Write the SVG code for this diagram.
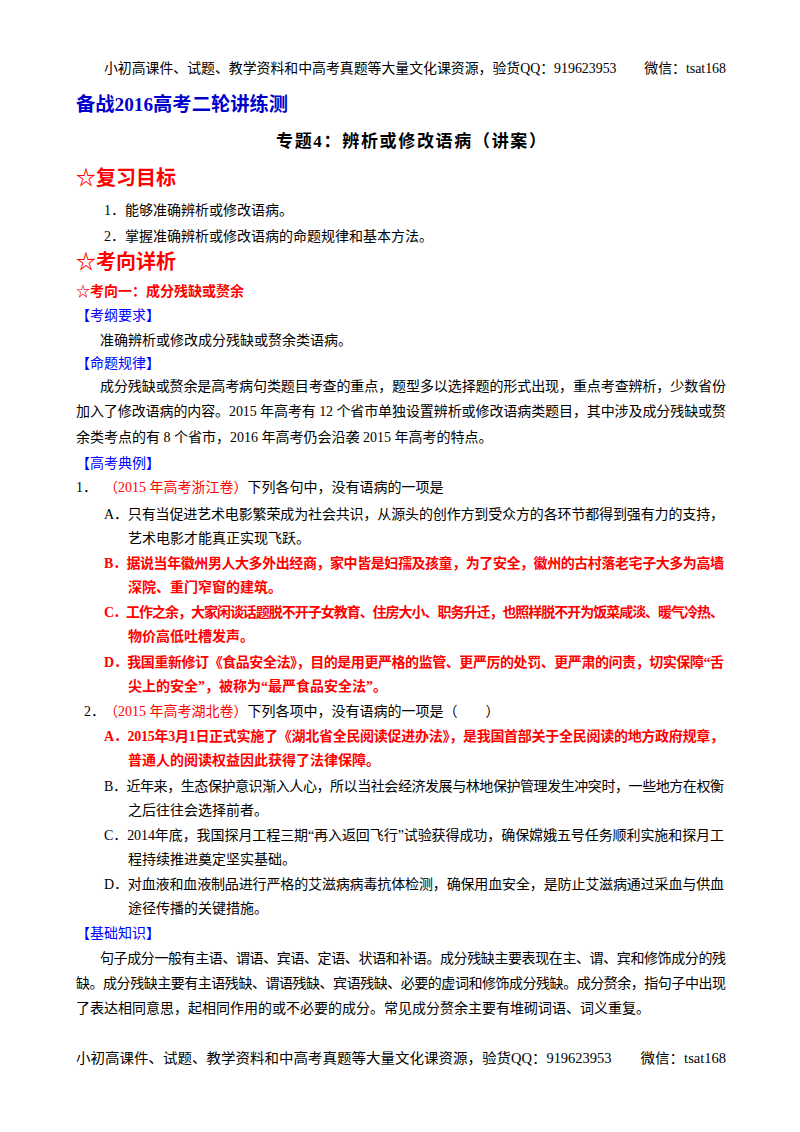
<svg xmlns="http://www.w3.org/2000/svg" width="800" height="1132" viewBox="0 0 800 1132">
<style>
text{font-family:"Liberation Serif","Noto Sans CJK SC",serif;font-size:14px;fill:#000}
.b{fill:#0000FF}
.r{fill:#FF0000}
.rb{fill:#FF0000;font-weight:bold}
.h{font-size:20px;font-weight:bold}
</style>
<rect width="800" height="1132" fill="#fff"/>
<g id="header"><text x="104" y="73" textLength="622" lengthAdjust="spacingAndGlyphs">小初高课件、试题、教学资料和中高考真题等大量文化课资源，验货QQ：919623953　　微信：tsat168</text></g>
<g id="title">
<text x="76" y="111" style="font-size:19px;font-weight:bold;fill:#0000CC" textLength="212" lengthAdjust="spacingAndGlyphs">备战2016高考二轮讲练测</text>
<text x="276" y="147" style="font-size:17px;font-weight:bold" textLength="270">专题4：辨析或修改语病（讲案）</text>
</g>
<g id="goals">
<text x="76" y="185" class="h r">☆复习目标</text>
<text x="104" y="215">1．能够准确辨析或修改语病。</text>
<text x="104" y="241">2．掌握准确辨析或修改语病的命题规律和基本方法。</text>
<text x="76" y="269" class="h r">☆考向详析</text>
</g>
<g id="sec1">
<text x="76" y="296" class="rb">☆考向一：成分残缺或赘余</text>
<text x="76" y="320" class="b">【考纲要求】</text>
<text x="100" y="345">准确辨析或修改成分残缺或赘余类语病。</text>
<text x="76" y="368" class="b">【命题规律】</text>
<text x="100" y="391" textLength="626">成分残缺或赘余是高考病句类题目考查的重点，题型多以选择题的形式出现，重点考查辨析，少数省份</text>
<text x="76" y="416" textLength="650">加入了修改语病的内容。2015 年高考有 12 个省市单独设置辨析或修改语病类题目，其中涉及成分残缺或赘</text>
<text x="76" y="442">余类考点的有 8 个省市，2016 年高考仍会沿袭 2015 年高考的特点。</text>
<text x="76" y="468" class="b">【高考典例】</text>
</g>
<g id="q1">
<text x="76" y="492">1．</text>
<text x="104" y="492"><tspan class="r">（2015 年高考浙江卷）</tspan>下列各句中，没有语病的一项是</text>
<text x="104" y="519" textLength="620">A．只有当促进艺术电影繁荣成为社会共识，从源头的创作方到受众方的各环节都得到强有力的支持，</text>
<text x="128" y="543">艺术电影才能真正实现飞跃。</text>
<text x="104" y="568" class="rb" textLength="620">B．据说当年徽州男人大多外出经商，家中皆是妇孺及孩童，为了安全，徽州的古村落老宅子大多为高墙</text>
<text x="128" y="592" class="rb">深院、重门窄窗的建筑。</text>
<text x="104" y="617" class="rb" textLength="620">C．工作之余，大家闲谈话题脱不开子女教育、住房大小、职务升迁，也照样脱不开为饭菜咸淡、暖气冷热、</text>
<text x="128" y="641" class="rb">物价高低吐槽发声。</text>
<text x="104" y="667" class="rb" textLength="620">D．我国重新修订《食品安全法》，目的是用更严格的监管、更严厉的处罚、更严肃的问责，切实保障“舌</text>
<text x="128" y="691" class="rb">尖上的安全”，被称为“最严食品安全法”。</text>
</g>
<g id="q2">
<text x="84" y="716">2．</text>
<text x="104" y="716"><tspan class="r">（2015 年高考湖北卷）</tspan>下列各项中，没有语病的一项是（　　）</text>
<text x="104" y="741" class="rb" textLength="620">A．2015年3月1日正式实施了《湖北省全民阅读促进办法》，是我国首部关于全民阅读的地方政府规章，</text>
<text x="128" y="765" class="rb">普通人的阅读权益因此获得了法律保障。</text>
<text x="104" y="791" textLength="620">B．近年来，生态保护意识渐入人心，所以当社会经济发展与林地保护管理发生冲突时，一些地方在权衡</text>
<text x="128" y="815">之后往往会选择前者。</text>
<text x="104" y="840" textLength="620">C．2014年底，我国探月工程三期“再入返回飞行”试验获得成功，确保嫦娥五号任务顺利实施和探月工</text>
<text x="128" y="864">程持续推进奠定坚实基础。</text>
<text x="104" y="889" textLength="620">D．对血液和血液制品进行严格的艾滋病病毒抗体检测，确保用血安全，是防止艾滋病通过采血与供血</text>
<text x="128" y="913">途径传播的关键措施。</text>
</g>
<g id="basics">
<text x="76" y="938" class="b">【基础知识】</text>
<text x="100" y="963" textLength="626">句子成分一般有主语、谓语、宾语、定语、状语和补语。成分残缺主要表现在主、谓、宾和修饰成分的残</text>
<text x="76" y="988" textLength="650">缺。成分残缺主要有主语残缺、谓语残缺、宾语残缺、必要的虚词和修饰成分残缺。成分赘余，指句子中出现</text>
<text x="76" y="1013">了表达相同意思，起相同作用的或不必要的成分。常见成分赘余主要有堆砌词语、词义重复。</text>
</g>
<g id="footer"><text x="76" y="1063" textLength="650" lengthAdjust="spacingAndGlyphs">小初高课件、试题、教学资料和中高考真题等大量文化课资源，验货QQ：919623953　　微信：tsat168</text></g>
</svg>
